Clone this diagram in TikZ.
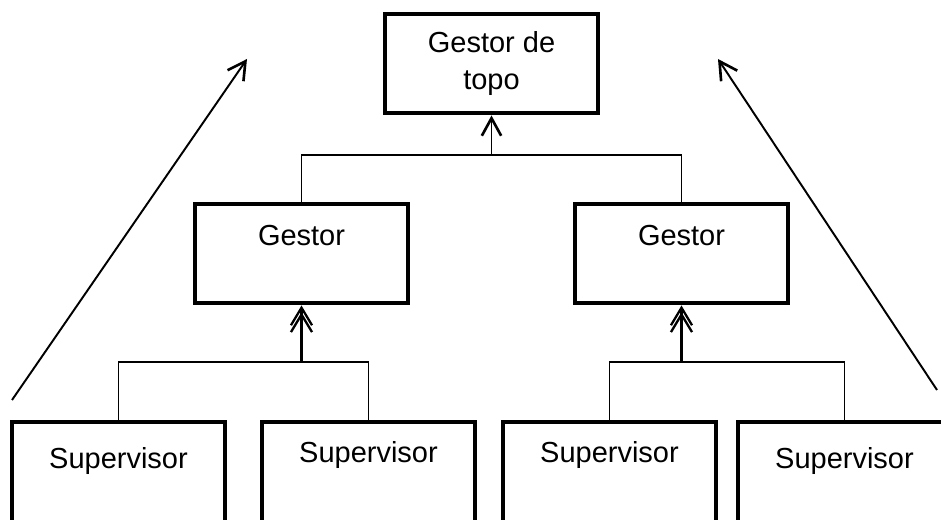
\documentclass[tikz,border=0pt]{standalone}
\usepackage{fontspec}
\setmainfont{Liberation Sans}
\usepackage{tikz}
\usetikzlibrary{arrows.meta}

\begin{document}
\begin{tikzpicture}[
  x=0.02cm, y=-0.02cm,
  box/.style={draw, line width=2.8pt, inner sep=0pt,
              font=\fontsize{16.5}{21.3}\selectfont,
              minimum width=4.26cm, minimum height=1.98cm},
  gbox/.style={box, text height=0.83cm, text depth=1.15cm},
  shi/.style={box, minimum height=2.06cm, text height=0.81cm, text depth=1.25cm},
  slo/.style={box, minimum height=2.06cm, text height=0.93cm, text depth=1.13cm},
  conn/.style={line width=1.1pt},
  arr/.style={-{Straight Barb[length=10pt, width=11pt, line width=1.5pt]}, line width=1.1pt},
  darr/.style={-{Straight Barb[length=10pt, width=12pt, line width=1.3pt, sep=-8pt]Straight Barb[length=10pt, width=12pt, line width=1.3pt]}, line width=1.3pt},
]
\useasboundingbox (0,0) rectangle (941,520);
\clip (0,0) rectangle (941,520);

% TOP
\node[box, align=center] (topo) at (491.5,63.5) {Gestor de\\topo};

% GESTORES
\node[gbox] (g1) at (301.5,253.5) {Gestor};
\node[gbox] (g2) at (681.5,253.5) {Gestor};

% SUPERVISORES
\node[slo] (s1) at (118.5,473.5) {Supervisor};
\node[shi] (s2) at (368.5,473.5) {Supervisor};
\node[shi] (s3) at (609.5,473.5) {Supervisor};
\node[slo] (s4) at (844.5,473.5) {Supervisor};

% junctions
\coordinate (jt) at (491.5,155);
\coordinate (jl) at (301.5,362);
\coordinate (jr) at (681.5,362);

\draw[conn] (g1.north) |- (jt) -| (g2.north);
\draw[arr] (jt) -- (topo);

\draw[conn] (s1.north) |- (jl) -| (s2.north);
\draw[darr] (jl) -- (g1);
\draw[conn] (s3.north) |- (jr) -| (s4.north);
\draw[darr] (jr) -- (g2);

% side arrows
\coordinate (l0) at (12,400);
\coordinate (l1) at (247,59);
\coordinate (r0) at (937,390);
\coordinate (r1) at (718,59);
\draw[arr] (l0) -- (l1);
\draw[arr] (r0) -- (r1);

\end{tikzpicture}
\end{document}
